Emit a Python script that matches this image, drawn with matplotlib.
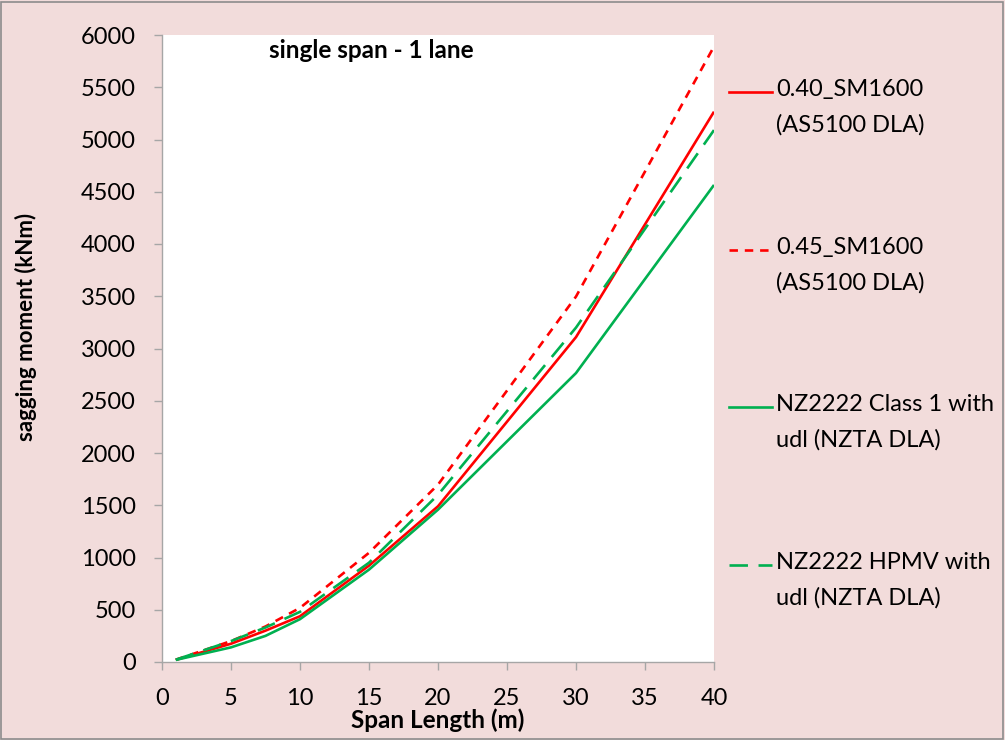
import matplotlib
matplotlib.use("Agg")
import matplotlib.pyplot as plt
from matplotlib.lines import Line2D
from matplotlib.patches import Rectangle

# Span lengths (m)
span = [1, 5, 7.5, 10, 15, 20, 30, 40]

# Sagging moment (kNm) for each load model
sm040 = [20, 175, 300, 438, 922, 1490, 3109, 5266]
sm045 = [22, 200, 340, 518, 1045, 1697, 3497, 5890]
nz_class1 = [20, 140, 250, 410, 884, 1458, 2765, 4565]
nz_hpmv = [22, 200, 330, 480, 950, 1600, 3200, 5090]

labels = [
    "0.40_SM1600\n(AS5100 DLA)",
    "0.45_SM1600\n(AS5100 DLA)",
    "NZ2222 Class 1 with\nudl (NZTA DLA)",
    "NZ2222 HPMV with\nudl (NZTA DLA)",
]

xticks = [0, 5, 10, 15, 20, 25, 30, 35, 40]
yticks = list(range(0, 6001, 500))

RED = "#FF0000"
GREEN = "#00B050"
BG = "#F2DCDB"
AXIS = "#A6A6A6"
FONT = "Lato"

W, H = 1005, 740
fig = plt.figure(figsize=(W / 100, H / 100), dpi=100, facecolor=BG)
ax = fig.add_axes([162 / W, 1 - 662 / H, (714 - 162) / W, (662 - 35) / H])
ax.set_facecolor("white")

styles = [
    dict(color=RED, lw=1.9, ls="-"),
    dict(color=RED, lw=1.9, ls=(0, (3.2, 2.6))),
    dict(color=GREEN, lw=1.9, ls="-"),
    dict(color=GREEN, lw=1.9, ls=(0, (7, 4))),
]
series = [sm040, sm045, nz_class1, nz_hpmv]
for ys, st in zip(series, styles):
    ax.plot(span, ys, solid_capstyle="butt", dash_capstyle="butt", **st)

ax.set_xlim(0, 40)
ax.set_ylim(0, 6000)
ax.set_xticks(xticks)
ax.set_yticks(yticks)
ax.set_xticklabels([str(t) for t in xticks], fontsize=17, family=FONT)
ax.set_yticklabels([str(t) for t in yticks], fontsize=17, family=FONT)
ax.tick_params(direction="out", length=6, width=1, color=AXIS)
ax.tick_params(axis="x", pad=13)
ax.tick_params(axis="y", pad=13)
for s in ("top", "right"):
    ax.spines[s].set_visible(False)
for s in ("left", "bottom"):
    ax.spines[s].set_color(AXIS)
    ax.spines[s].set_linewidth(1)

ax.set_xlabel("Span Length (m)", fontsize=17.5, fontweight="bold", family=FONT, labelpad=-1)
ax.set_ylabel("sagging moment (kNm)", fontsize=16, fontweight="bold", family=FONT)
ax.yaxis.set_label_coords(-0.227, 0.535)
ax.text(0.38, 0.975, "single span - 1 lane", transform=ax.transAxes, ha="center", va="center",
        fontsize=17.5, fontweight="bold", family=FONT)

# Legend drawn at the right of the plot area
entry_y = [92, 250, 407, 565]
for y, st, lab in zip(entry_y, styles, labels):
    fy = 1 - y / H
    fig.add_artist(Line2D([729 / W, 772 / W], [fy, fy], transform=fig.transFigure,
                          color=st["color"], lw=st["lw"], ls=st["ls"]))
    fig.text(776 / W, 1 - (y - 13) / H, lab, ha="left", va="top", fontsize=17,
             family=FONT, linespacing=1.78)

fig.add_artist(Rectangle((1 / W, 1 / H), (W - 3) / W, (H - 3) / H, transform=fig.transFigure,
                         fill=False, edgecolor="#8C8C8C", lw=1.2))

fig.savefig("out.png", dpi=100, facecolor=BG)
